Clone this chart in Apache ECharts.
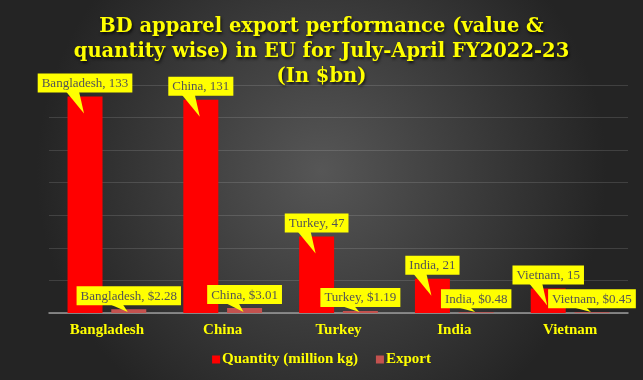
<!DOCTYPE html>
<html>
<head>
<meta charset="utf-8">
<script src="https://cdn.jsdelivr.net/npm/echarts@6/dist/echarts.min.js"></script>
<style>
html,body{margin:0;padding:0;background:#333;}
#chart{width:643px;height:380px;}
</style>
</head>
<body>
<div id="chart"></div>
<script>
const categories = ['Bangladesh', 'China', 'Turkey', 'India', 'Vietnam'];
const quantity = [133, 131, 47, 21, 15];
const exportValue = [2.28, 3.01, 1.19, 0.48, 0.45];
const seriesNames = ['Quantity (million kg)', 'Export'];
const titleText = 'BD apparel export performance (value &\nquantity wise) in EU for July-April FY2022-23\n(In $bn)';

const BAR_W = 35;
const BAR_GAP = 0.25;
const HALF_STEP = (BAR_W + BAR_W * BAR_GAP) / 2;
const LABEL_DIST = 4;

const labelStyle = {
  show: true,
  position: 'top',
  distance: LABEL_DIST,
  backgroundColor: '#FFFF00',
  color: '#545454',
  fontFamily: 'Liberation Serif',
  fontSize: 13,
  padding: [3, 4, 2, 4],
  lineHeight: 14
};

function pointerSeries(values, sign) {
  return {
    type: 'custom',
    z: 5,
    silent: true,
    data: values.map((v, i) => [i, v]),
    renderItem: function (params, api) {
      const p = api.coord([api.value(0), api.value(1)]);
      const base = api.coord([api.value(0), 0]);
      const cx = p[0] + sign * HALF_STEP;
      const top = p[1];
      const by = top - LABEL_DIST - 1;
      const tipY = Math.min(top + 17, base[1] - 1);
      return {
        type: 'polygon',
        shape: { points: [[cx - 19, by], [cx - 6, by], [cx - 1, tipY]] },
        style: { fill: '#FFFF00' }
      };
    }
  };
}

const chart = echarts.init(document.getElementById('chart'));
chart.setOption({
  animation: false,
  backgroundColor: {
    type: 'radial', x: 0.5, y: 0.45, r: 0.75,
    colorStops: [{ offset: 0, color: '#565656' }, { offset: 1, color: '#242424' }]
  },
  title: {
    text: titleText,
    left: 'center',
    top: 9,
    textStyle: {
      fontFamily: 'DejaVu Serif',
      fontWeight: 'bold',
      fontSize: 19.5,
      lineHeight: 25,
      color: '#FFFF00',
      textShadowColor: 'rgba(0,0,0,0.75)',
      textShadowBlur: 3,
      textShadowOffsetX: 1,
      textShadowOffsetY: 2
    }
  },
  legend: {
    bottom: 8,
    left: 'center',
    icon: 'rect',
    itemWidth: 8,
    itemHeight: 8,
    itemGap: 18,
    data: seriesNames,
    textStyle: {
      fontFamily: 'Liberation Serif',
      fontWeight: 'bold',
      fontSize: 15,
      color: '#FFFF00',
      padding: [0, 0, 0, -3]
    }
  },
  grid: { left: 49, right: 15, top: 85, bottom: 67 },
  xAxis: {
    type: 'category',
    data: categories,
    axisTick: { show: false },
    axisLine: { lineStyle: { color: '#9a9a9a', width: 1.5 } },
    axisLabel: {
      margin: 10,
      fontFamily: 'Liberation Serif',
      fontWeight: 'bold',
      fontSize: 15,
      color: '#FFFF00'
    }
  },
  yAxis: {
    type: 'value',
    min: 0,
    max: 140,
    interval: 20,
    axisLabel: { show: false },
    axisLine: { show: false },
    axisTick: { show: false },
    splitLine: { lineStyle: { color: 'rgba(255,255,255,0.13)', width: 1 } }
  },
  series: [
    {
      name: seriesNames[0],
      type: 'bar',
      barWidth: BAR_W,
      barGap: (BAR_GAP * 100) + '%',
      data: quantity,
      itemStyle: { color: '#FF0000' },
      label: Object.assign({}, labelStyle, {
        formatter: p => p.name + ', ' + p.value
      }),
      z: 2
    },
    {
      name: seriesNames[1],
      type: 'bar',
      barWidth: BAR_W,
      data: exportValue,
      itemStyle: { color: '#C4524F' },
      label: Object.assign({}, labelStyle, {
        formatter: p => p.name + ', $' + Number(p.value).toFixed(2)
      }),
      z: 2
    },
    pointerSeries(quantity, -1),
    pointerSeries(exportValue, 1)
  ]
});
</script>
</body>
</html>
